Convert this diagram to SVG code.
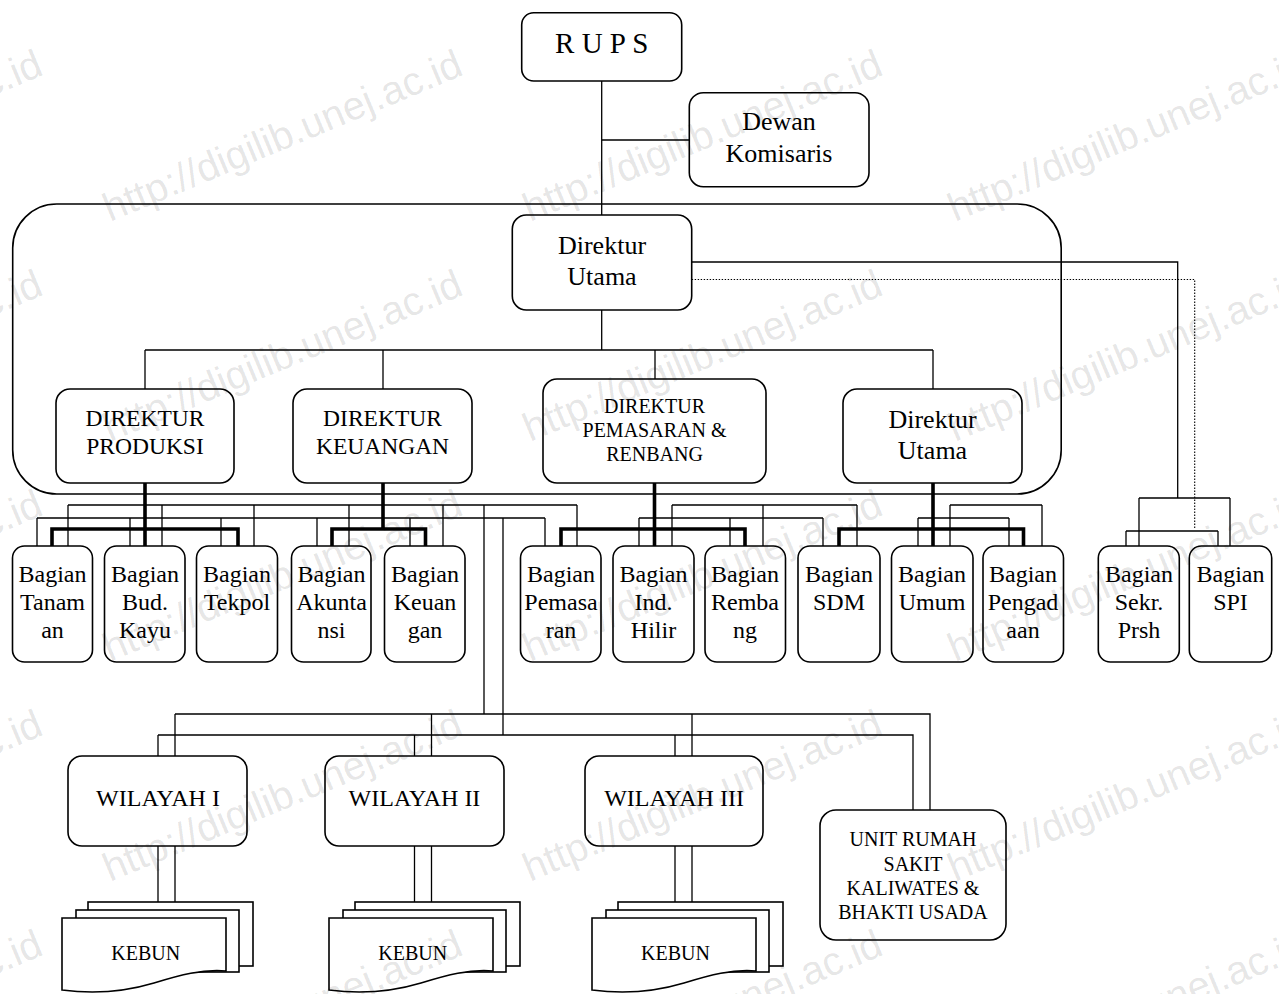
<svg xmlns="http://www.w3.org/2000/svg" width="1279" height="994" viewBox="0 0 1279 994">
  <style>
    .box{fill:#fff;stroke:#000;stroke-width:1.6}
    .frame{fill:none;stroke:#000;stroke-width:1.6}
    .ln{fill:none;stroke:#000;stroke-width:1.3}
    .thk{fill:none;stroke:#000;stroke-width:3.6;stroke-linejoin:miter}
    .dot{fill:none;stroke:#000;stroke-width:1.1;stroke-dasharray:1.4 1.6}
    text{font-family:"Liberation Serif","Times New Roman",serif;fill:#000;text-anchor:middle}
    .t29{font-size:29px}
    .t26{font-size:26px}
    .t24{font-size:24px}
    .t23{font-size:23.5px}
    .t21{font-size:21px}
    .t20{font-size:20px}
    .wm{font-family:"Liberation Sans",Arial,sans-serif;font-size:40px;fill:#000;fill-opacity:0.11;text-anchor:start}
  </style>
  <defs>
    <!-- stacked document symbol, origin at front page top-left -->
    <g id="docstack">
      <rect x="26" y="-16" width="165" height="64" class="box"/>
      <rect x="14" y="-8" width="163" height="62" class="box"/>
      <path class="box" d="M0,0 H164 V53 C140,51 118,57 92,65 C62,74 30,76 0,72 Z"/>
    </g>
  </defs>

  <rect width="1279" height="994" fill="#fff"/>

  <!-- board of directors frame -->
  <rect id="board-frame" class="frame" x="12.7" y="204" width="1048.5" height="290" rx="44"/>

  <g id="connectors">
    <!-- top hierarchy -->
    <path class="ln" d="M601.7,81 V215 M601.7,140 H689 M601.7,310 V350 M145,350 H933 M145,350 V389 M383,350 V389 M655,350 V379 M933,350 V389"/>
    <!-- staff units on the right -->
    <path class="ln" d="M691.7,262 H1177.7 V498 M1139,498 H1230 M1139,498 V546 M1230,498 V546 M1126,531 H1218 M1126,531 V546 M1218,531 V546"/>
    <path class="dot" d="M691.7,279.5 H1194.7 V529"/>
    <!-- direct lines from each director -->
    <path class="thk" d="M145,483 V546 M52,546 V529 H238 V546"/>
    <path class="thk" d="M383,483 V529 M332,546 V529 H425.5 V546"/>
    <path class="thk" d="M654.5,483 V546 M561,546 V529 H745 V546"/>
    <path class="thk" d="M933,483 V546 M839,546 V529 H1023.5 V546"/>
    <!-- shared coordination buses -->
    <path class="ln" d="M68,505 H577 M672,505 H857 M950,505 H1042 M37,518 H545 M639,518 H823 M918,518 H1009"/>
    <path class="ln" d="M37,518 V546 M68,505 V546 M130,518 V546 M162,505 V546 M221,518 V546 M254,505 V546
                        M317,518 V546 M349,505 V546 M410,518 V546 M443,505 V546
                        M545,518 V546 M577,505 V546 M639,518 V546 M672,505 V546 M730,518 V546 M763,505 V546
                        M823,518 V546 M857,505 V546 M918,518 V546 M950,505 V546 M1009,518 V546 M1042,505 V546"/>
    <!-- regional units -->
    <path class="ln" d="M484,505 V714 M503,518 V735 M175,714 H930 V810 M158,735 H913 V810
                        M175,714 V756 M158,735 V756 M431.5,714 V756 M414.5,735 V756 M692,714 V756 M675,735 V756"/>
    <path class="ln" d="M158,846 V902 M175,846 V902 M414.5,846 V902 M431.5,846 V902 M675,846 V902 M692,846 V902"/>
  </g>

  <g id="rups">
    <rect class="box" x="521.7" y="12.7" width="160" height="68.3" rx="12"/>
    <text class="t29" x="601.7" y="52.5">R U P S</text>
  </g>
  <g id="dewan-komisaris">
    <rect class="box" x="689.3" y="92.7" width="179.7" height="94" rx="14"/>
    <text class="t26" x="779" y="130">Dewan</text>
    <text class="t26" x="779" y="162">Komisaris</text>
  </g>
  <g id="direktur-utama">
    <rect class="box" x="512.3" y="215" width="179.4" height="95" rx="14"/>
    <text class="t26" x="602" y="254">Direktur</text>
    <text class="t26" x="602" y="285">Utama</text>
  </g>

  <g id="dir-produksi">
    <rect class="box" x="56" y="389" width="178" height="94" rx="14"/>
    <text class="t23" x="145" y="426">DIREKTUR</text>
    <text class="t23" x="145" y="454">PRODUKSI</text>
  </g>
  <g id="dir-keuangan">
    <rect class="box" x="293" y="389" width="179" height="94" rx="14"/>
    <text class="t23" x="382.5" y="426">DIREKTUR</text>
    <text class="t23" x="382.5" y="454">KEUANGAN</text>
  </g>
  <g id="dir-pemasaran">
    <rect class="box" x="543" y="379" width="223" height="104" rx="14"/>
    <text class="t20" x="654.5" y="413">DIREKTUR</text>
    <text class="t20" x="654.5" y="437">PEMASARAN &amp;</text>
    <text class="t20" x="654.5" y="461">RENBANG</text>
  </g>
  <g id="dir-utama-2">
    <rect class="box" x="843" y="389" width="179" height="94" rx="14"/>
    <text class="t26" x="932.5" y="428">Direktur</text>
    <text class="t26" x="932.5" y="459">Utama</text>
  </g>

  <g id="bag-tanaman">
    <rect class="box" x="12.5" y="546" width="80" height="116" rx="12"/>
    <text class="t24" x="52.5" y="582">Bagian</text><text class="t24" x="52.5" y="610">Tanam</text><text class="t24" x="52.5" y="638">an</text>
  </g>
  <g id="bag-budkayu">
    <rect class="box" x="104.5" y="546" width="80.5" height="116" rx="12"/>
    <text class="t24" x="145" y="582">Bagian</text><text class="t24" x="145" y="610">Bud.</text><text class="t24" x="145" y="638">Kayu</text>
  </g>
  <g id="bag-tekpol">
    <rect class="box" x="196.5" y="546" width="81" height="116" rx="12"/>
    <text class="t24" x="237" y="582">Bagian</text><text class="t24" x="237" y="610">Tekpol</text>
  </g>
  <g id="bag-akuntansi">
    <rect class="box" x="291.5" y="546" width="79.5" height="116" rx="12"/>
    <text class="t24" x="331.5" y="582">Bagian</text><text class="t24" x="331.5" y="610">Akunta</text><text class="t24" x="331.5" y="638">nsi</text>
  </g>
  <g id="bag-keuangan">
    <rect class="box" x="384.5" y="546" width="80.5" height="116" rx="12"/>
    <text class="t24" x="425" y="582">Bagian</text><text class="t24" x="425" y="610">Keuan</text><text class="t24" x="425" y="638">gan</text>
  </g>
  <g id="bag-pemasaran">
    <rect class="box" x="520.5" y="546" width="80.5" height="116" rx="12"/>
    <text class="t24" x="561" y="582">Bagian</text><text class="t24" x="561" y="610">Pemasa</text><text class="t24" x="561" y="638">ran</text>
  </g>
  <g id="bag-indhilir">
    <rect class="box" x="613" y="546" width="81" height="116" rx="12"/>
    <text class="t24" x="653.5" y="582">Bagian</text><text class="t24" x="653.5" y="610">Ind.</text><text class="t24" x="653.5" y="638">Hilir</text>
  </g>
  <g id="bag-rembang">
    <rect class="box" x="705" y="546" width="80.5" height="116" rx="12"/>
    <text class="t24" x="745" y="582">Bagian</text><text class="t24" x="745" y="610">Remba</text><text class="t24" x="745" y="638">ng</text>
  </g>
  <g id="bag-sdm">
    <rect class="box" x="798" y="546" width="82" height="116" rx="12"/>
    <text class="t24" x="839" y="582">Bagian</text><text class="t24" x="839" y="610">SDM</text>
  </g>
  <g id="bag-umum">
    <rect class="box" x="891.5" y="546" width="81.5" height="116" rx="12"/>
    <text class="t24" x="932" y="582">Bagian</text><text class="t24" x="932" y="610">Umum</text>
  </g>
  <g id="bag-pengadaan">
    <rect class="box" x="983" y="546" width="80.5" height="116" rx="12"/>
    <text class="t24" x="1023" y="582">Bagian</text><text class="t24" x="1023" y="610">Pengad</text><text class="t24" x="1023" y="638">aan</text>
  </g>
  <g id="bag-sekr">
    <rect class="box" x="1098.3" y="546" width="81" height="116" rx="12"/>
    <text class="t24" x="1139" y="582">Bagian</text><text class="t24" x="1139" y="610">Sekr.</text><text class="t24" x="1139" y="638">Prsh</text>
  </g>
  <g id="bag-spi">
    <rect class="box" x="1189.3" y="546" width="82.4" height="116" rx="12"/>
    <text class="t24" x="1230.5" y="582">Bagian</text><text class="t24" x="1230.5" y="610">SPI</text>
  </g>

  <g id="wilayah-1">
    <rect class="box" x="68" y="756" width="179" height="90" rx="14"/>
    <text class="t24" x="158" y="806">WILAYAH I</text>
  </g>
  <g id="wilayah-2">
    <rect class="box" x="325" y="756" width="179" height="90" rx="14"/>
    <text class="t24" x="414.5" y="806">WILAYAH II</text>
  </g>
  <g id="wilayah-3">
    <rect class="box" x="585" y="756" width="178" height="90" rx="14"/>
    <text class="t24" x="674" y="806">WILAYAH III</text>
  </g>
  <g id="unit-rumah-sakit">
    <rect class="box" x="820" y="810" width="186" height="130" rx="16"/>
    <text class="t20" x="913" y="846">UNIT RUMAH</text>
    <text class="t20" x="913" y="871">SAKIT</text>
    <text class="t20" x="913" y="895">KALIWATES &amp;</text>
    <text class="t20" x="913" y="919">BHAKTI USADA</text>
  </g>

  <g id="kebun-1">
    <use href="#docstack" x="62" y="918"/>
    <text class="t20" x="145.7" y="960">KEBUN</text>
  </g>
  <g id="kebun-2">
    <use href="#docstack" x="329" y="918"/>
    <text class="t20" x="412.7" y="960">KEBUN</text>
  </g>
  <g id="kebun-3">
    <use href="#docstack" x="592" y="918"/>
    <text class="t20" x="675.5" y="960">KEBUN</text>
  </g>

  <!-- repository watermark -->
  <g id="watermark">
    <text class="wm" x="-310" y="222" transform="rotate(-22.6 -310 222)">http://digilib.unej.ac.id</text>
    <text class="wm" x="110" y="222" transform="rotate(-22.6 110 222)">http://digilib.unej.ac.id</text>
    <text class="wm" x="530" y="222" transform="rotate(-22.6 530 222)">http://digilib.unej.ac.id</text>
    <text class="wm" x="955" y="222" transform="rotate(-22.6 955 222)">http://digilib.unej.ac.id</text>
    <text class="wm" x="-310" y="442" transform="rotate(-22.6 -310 442)">http://digilib.unej.ac.id</text>
    <text class="wm" x="110" y="442" transform="rotate(-22.6 110 442)">http://digilib.unej.ac.id</text>
    <text class="wm" x="530" y="442" transform="rotate(-22.6 530 442)">http://digilib.unej.ac.id</text>
    <text class="wm" x="955" y="442" transform="rotate(-22.6 955 442)">http://digilib.unej.ac.id</text>
    <text class="wm" x="-310" y="662" transform="rotate(-22.6 -310 662)">http://digilib.unej.ac.id</text>
    <text class="wm" x="110" y="662" transform="rotate(-22.6 110 662)">http://digilib.unej.ac.id</text>
    <text class="wm" x="530" y="662" transform="rotate(-22.6 530 662)">http://digilib.unej.ac.id</text>
    <text class="wm" x="955" y="662" transform="rotate(-22.6 955 662)">http://digilib.unej.ac.id</text>
    <text class="wm" x="-310" y="882" transform="rotate(-22.6 -310 882)">http://digilib.unej.ac.id</text>
    <text class="wm" x="110" y="882" transform="rotate(-22.6 110 882)">http://digilib.unej.ac.id</text>
    <text class="wm" x="530" y="882" transform="rotate(-22.6 530 882)">http://digilib.unej.ac.id</text>
    <text class="wm" x="955" y="882" transform="rotate(-22.6 955 882)">http://digilib.unej.ac.id</text>
    <text class="wm" x="-310" y="1102" transform="rotate(-22.6 -310 1102)">http://digilib.unej.ac.id</text>
    <text class="wm" x="110" y="1102" transform="rotate(-22.6 110 1102)">http://digilib.unej.ac.id</text>
    <text class="wm" x="530" y="1102" transform="rotate(-22.6 530 1102)">http://digilib.unej.ac.id</text>
    <text class="wm" x="955" y="1102" transform="rotate(-22.6 955 1102)">http://digilib.unej.ac.id</text>
  </g>
</svg>
